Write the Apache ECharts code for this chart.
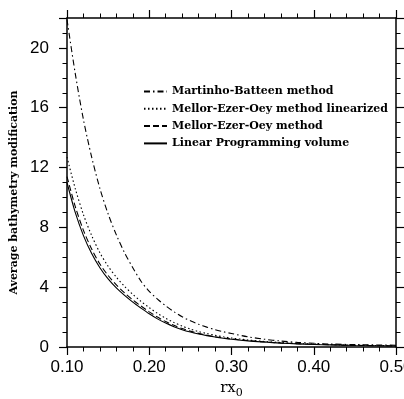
<!DOCTYPE html>
<html><head><meta charset="utf-8">
<script src="https://cdn.jsdelivr.net/npm/echarts@6/dist/echarts.min.js"></script>
<style>html,body{margin:0;padding:0;background:#fff}#c{width:404px;height:399px}</style>
</head><body><div id="c"></div>
<script>
const xs = [0.10,0.11,0.12,0.13,0.14,0.15,0.16,0.17,0.18,0.19,0.20,0.21,0.22,0.23,0.24,0.25,0.26,0.27,0.28,0.29,0.30,0.32,0.34,0.36,0.38,0.40,0.42,0.45,0.50];
const martinho = [21.9,18.3,15.2,12.7,10.6,8.9,7.5,6.3,5.3,4.4,3.72,3.2,2.75,2.36,2.02,1.75,1.52,1.33,1.16,1.02,0.9,0.68,0.52,0.4,0.31,0.25,0.2,0.16,0.12];
const linearized = [12.7,10.6,8.85,7.45,6.3,5.4,4.67,4.05,3.52,3.05,2.63,2.25,1.92,1.64,1.4,1.2,1.03,0.9,0.78,0.68,0.6,0.47,0.37,0.3,0.24,0.2,0.16,0.12,0.08];
const mellor = [11.4,9.4,7.8,6.55,5.55,4.78,4.15,3.62,3.15,2.74,2.35,2.0,1.7,1.45,1.23,1.06,0.91,0.79,0.69,0.61,0.54,0.43,0.34,0.27,0.22,0.18,0.15,0.11,0.07];
const linprog = [11.0,9.0,7.45,6.25,5.3,4.55,3.95,3.45,3.0,2.6,2.22,1.88,1.6,1.36,1.16,1.0,0.87,0.76,0.67,0.59,0.52,0.41,0.33,0.26,0.21,0.17,0.14,0.1,0.07];
const names = ['Martinho-Batteen method','Mellor-Ezer-Oey method linearized','Mellor-Ezer-Oey method','Linear Programming volume'];
const xTicks = ['0.10','0.20','0.30','0.40','0.50'];

const pair = v => xs.map((x,i)=>[x,v[i]]);
const dashes = [[6,3,1.5,3],[1.5,2.5],[6,3],'solid'];
const vals = [martinho, linearized, mellor, linprog];
const axisLine = {show:true,onZero:false,lineStyle:{color:'#000',width:1.5}};
const axisTick = {show:true,inside:false,length:8,lineStyle:{color:'#000',width:1.2}};
const chart = echarts.init(document.getElementById('c'));
chart.setOption({
  animation:false,
  grid:{left:67,right:8,top:18,bottom:52,containLabel:false,outerBoundsMode:'none'},
  legend:{
    orient:'vertical', left:138, top:80.5, itemWidth:23, itemHeight:12, itemGap:5.3,
    itemStyle:{opacity:0},
    textStyle:{fontFamily:'DejaVu Serif',fontSize:11,fontWeight:'bold',color:'#000',lineHeight:12},
    data:names
  },
  xAxis:[
    {type:'value',min:0.1,max:0.5,interval:0.1,position:'bottom',axisLine,axisTick,splitLine:{show:false},
      minorTick:{show:true,splitNumber:5,length:4.5,lineStyle:{color:'#000',width:1}},
      axisLabel:{margin:12,fontFamily:'Liberation Sans',fontSize:17,color:'#000',
        formatter:v=>xTicks[Math.round((v-0.1)/0.1)]},
      name:'{a|rx}{b|0}', nameLocation:'middle', nameGap:31,
      nameTextStyle:{rich:{a:{fontFamily:'DejaVu Serif',fontSize:15,color:'#000'},
        b:{fontFamily:'DejaVu Serif',fontSize:11,color:'#000',padding:[10,0,0,0]}}}},
    {type:'value',min:0.1,max:0.5,interval:0.1,position:'top',axisLine,axisTick,splitLine:{show:false},
      minorTick:{show:true,splitNumber:5,length:4.5,lineStyle:{color:'#000',width:1}},
      axisLabel:{show:false}}
  ],
  yAxis:[
    {type:'value',min:0,max:22,interval:4,position:'left',axisLine,axisTick,splitLine:{show:false},
      minorTick:{show:true,splitNumber:4,length:4.5,lineStyle:{color:'#000',width:1}},
      axisLabel:{margin:18,fontFamily:'Liberation Sans',fontSize:17,color:'#000',showMaxLabel:false},
      name:'Average bathymetry modification', nameLocation:'middle', nameGap:42,
      nameTextStyle:{fontFamily:'DejaVu Serif',fontSize:11,fontWeight:'bold',color:'#000',padding:[0,20,0,0]}},
    {type:'value',min:0,max:22,interval:4,position:'right',axisLine,axisTick,splitLine:{show:false},
      minorTick:{show:true,splitNumber:4,length:4.5,lineStyle:{color:'#000',width:1}},
      axisLabel:{show:false}}
  ],
  series: names.map((n,i)=>({
    name:n, type:'line', xAxisIndex:0, yAxisIndex:0, smooth:0.3, showSymbol:false, symbol:'none',
    clip:true,
    lineStyle:{color:'#000',width:1.1,type:dashes[i]},
    itemStyle:{color:'#000'},
    data:pair(vals[i])
  }))
});
</script></body></html>
